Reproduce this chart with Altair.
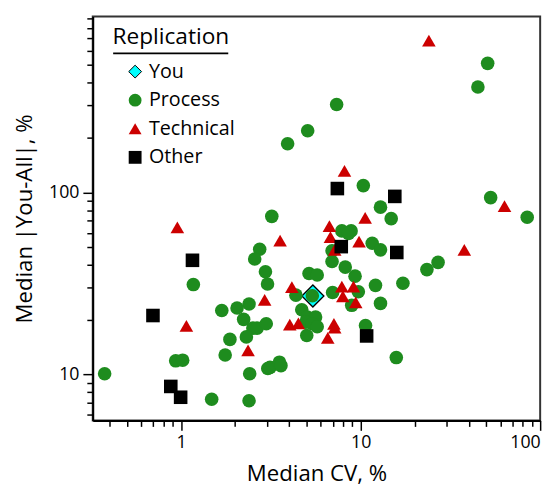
import altair as alt
import pandas as pd

# ---- data ----
you_cv = [5.42]
you_dev = [27.0]

process_cv = [0.375, 3.92, 5.07, 7.35, 51.0, 45.0, 10.35, 12.9, 53.0, 84.7, 14.8, 7.86, 8.85, 8.56,
              11.6, 12.9, 6.93, 6.93, 8.21, 9.31, 5.16, 5.73, 23.4, 27.0, 12.1, 17.2, 6.98, 9.71,
              8.92, 12.9, 4.36, 5.38, 4.70, 5.05, 5.61, 4.95, 5.38, 5.73, 5.01, 10.65, 15.8, 3.20,
              2.74, 2.57, 2.95, 3.03, 1.17, 2.39, 2.05, 1.685, 2.23, 2.51, 2.65, 2.98, 2.31, 1.87,
              1.76, 0.933, 1.02, 2.41, 3.04, 3.13, 3.53, 3.60, 1.48, 2.39]
process_dev = [10.1, 185, 218, 304, 511, 379, 109, 83.0, 93.6, 73.0, 71.8, 61.5, 61.5, 59.6,
               52.6, 48.4, 47.8, 41.8, 38.9, 34.7, 35.9, 35.2, 37.7, 41.3, 30.9, 31.7, 28.2, 28.5,
               24.0, 24.6, 27.3, 27.1, 22.7, 20.7, 20.7, 19.4, 19.0, 18.3, 16.4, 18.6, 12.4, 73.9,
               48.8, 43.1, 36.7, 31.4, 31.2, 24.4, 23.2, 22.5, 20.1, 18.0, 18.0, 19.0, 16.1, 15.6,
               12.8, 11.9, 12.0, 10.1, 10.8, 10.96, 11.7, 11.2, 7.32, 7.18]

technical_cv = [24.0, 8.13, 63.3, 10.6, 37.8, 6.70, 6.79, 7.17, 9.80, 0.953, 3.56, 4.14, 7.86,
                9.12, 7.96, 9.39, 2.92, 4.03, 4.50, 7.10, 7.17, 6.56, 1.07, 2.36]
technical_dev = [682, 131.5, 84.2, 72.4, 48.4, 65.3, 56.9, 48.4, 53.7, 64.2, 54.3, 30.2, 30.4,
                 30.4, 26.9, 24.9, 25.7, 18.8, 19.1, 19.0, 18.1, 15.9, 18.5, 13.6]

other_cv = [7.42, 15.5, 7.80, 15.9, 1.157, 0.697, 10.8, 0.876, 0.994]
other_dev = [105, 95.1, 50.4, 46.8, 42.4, 21.1, 16.3, 8.61, 7.51]

groups = ["You", "Process", "Technical", "Other"]
fills = ["#00FFFF", "#1E8C1E", "#CC0000", "#000000"]
strokes = ["#000000", "transparent", "transparent", "transparent"]
shapes = ["diamond", "circle", "triangle-up", "square"]

x_ticks = [0.4, 0.5, 0.6, 0.7, 0.8, 0.9, 1, 2, 3, 4, 5, 6, 7, 8, 9, 10,
           20, 30, 40, 50, 60, 70, 80, 90, 100]
y_ticks = [6, 7, 8, 9, 10, 20, 30, 40, 50, 60, 70, 80, 90, 100,
           200, 300, 400, 500, 600, 700, 800, 900]

# ---- tables ----
rows = []
for g, xs, ys in [("Process", process_cv, process_dev),
                  ("Technical", technical_cv, technical_dev),
                  ("Other", other_cv, other_dev)]:
    for a, b in zip(xs, ys):
        rows.append({"cv": a, "dev": b, "Replication": g})
df = pd.DataFrame(rows)
you_df = pd.DataFrame({"cv": you_cv, "dev": you_dev})

FONT = "Open Sans"
major_test = "indexof([1, 10, 100, 1000], datum.value) >= 0"

x_enc = alt.X("cv:Q", title="Median CV, %",
              scale=alt.Scale(type="log", domain=[0.322, 100], nice=False),
              axis=alt.Axis(values=x_ticks, labelExpr=f"{major_test} ? datum.label : ''",
                            format="~g", grid=False,
                            tickSize={"condition": {"test": major_test, "value": 10}, "value": 6},
                            labelPadding=3, titlePadding=12))
y_enc = alt.Y("dev:Q", title="Median |You-All|, %",
              scale=alt.Scale(type="log", domain=[5.6, 925], nice=False),
              axis=alt.Axis(values=y_ticks, labelExpr=f"{major_test} ? datum.label : ''",
                            format="~g", grid=False,
                            tickSize={"condition": {"test": major_test, "value": 10}, "value": 6},
                            labelPadding=4, titlePadding=12))

you_layer = alt.Chart(you_df).mark_point(
    shape="diamond", filled=True, size=500, fill="#00FFFF", stroke="#000000",
    strokeWidth=1.3, opacity=1
).encode(x=x_enc, y=y_enc)

main_layer = alt.Chart(df).mark_point(filled=True, size=190, opacity=1, strokeWidth=1).encode(
    x=x_enc, y=y_enc,
    color=alt.Color("Replication:N", scale=alt.Scale(domain=groups, range=fills),
                    legend=alt.Legend(title="Replication", orient="none", legendX=20, legendY=10,
                                      padding=0, titleFontSize=23, titleFont=FONT,
                                      titleFontWeight="normal", titleColor="black",
                                      titlePadding=13, labelFontSize=20, labelFont=FONT,
                                      labelColor="black", symbolSize=170, symbolOffset=13,
                                      labelOffset=4, rowPadding=9, symbolStrokeWidth=1)),
    shape=alt.Shape("Replication:N", scale=alt.Scale(domain=groups, range=shapes)),
    stroke=alt.Stroke("Replication:N", scale=alt.Scale(domain=groups, range=strokes)),
)

underline = alt.Chart(pd.DataFrame({"a": [0]})).mark_rule(color="black", strokeWidth=2).encode(
    x=alt.value(20.7), x2=alt.value(137.5), y=alt.value(37.5)
)

chart = alt.layer(you_layer, main_layer, underline).properties(
    width=454, height=410,
    padding={"left": 6, "top": 5, "right": 10, "bottom": 0},
).configure_view(
    stroke="#333333", strokeWidth=2
).configure_axis(
    domainColor="black", domainWidth=2, tickColor="black", tickWidth=1.5,
    labelFont=FONT, labelFontSize=18, labelColor="black",
    titleFont=FONT, titleFontSize=22.5, titleFontWeight="normal", titleColor="black",
)

chart.save("out.html", embed_options={"renderer": "svg", "actions": False})
